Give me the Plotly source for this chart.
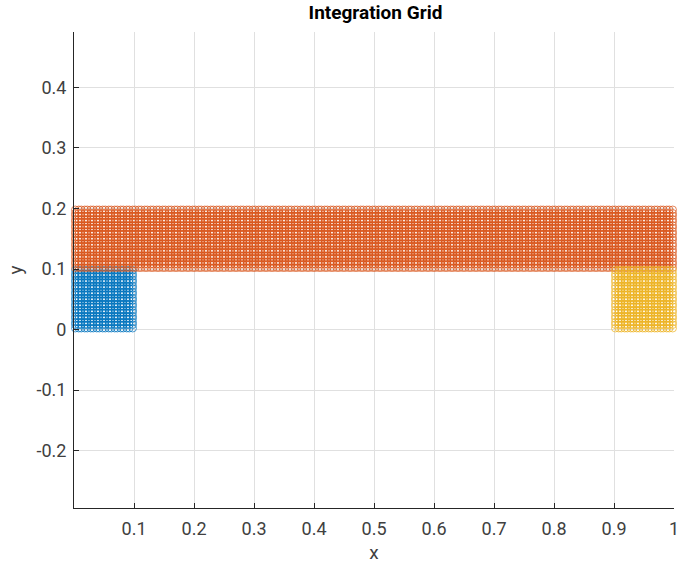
import numpy as np
import plotly.graph_objects as go

# Integration-grid blocks: name, x-extent, y-extent, colour
block_names = ["left", "strip", "right"]
block_x = [[0.0, 0.1], [0.0, 1.0], [0.9, 1.0]]
block_y = [[0.0, 0.1], [0.1, 0.2], [0.0, 0.1]]
block_colors = ["#0072BD", "#D95319", "#EDB120"]
cell_size = 0.01
gauss_offsets = [0.2113, 0.7887]   # 2-point Gauss positions inside each cell (fraction of cell)

x_ticks = [0.1, 0.2, 0.3, 0.4, 0.5, 0.6, 0.7, 0.8, 0.9, 1.0]
x_tick_text = ["0.1", "0.2", "0.3", "0.4", "0.5", "0.6", "0.7", "0.8", "0.9", "1"]
y_ticks = [-0.2, -0.1, 0.0, 0.1, 0.2, 0.3, 0.4]
y_tick_text = ["-0.2", "-0.1", "0", "0.1", "0.2", "0.3", "0.4"]


def gauss_nodes(lo, hi):
    n = int(round((hi - lo) / cell_size))
    starts = lo + cell_size * np.arange(n)
    return (starts[:, None] + cell_size * np.array(gauss_offsets)[None, :]).ravel()


fig = go.Figure()
for name, bx, by, col in zip(block_names, block_x, block_y, block_colors):
    gx, gy = np.meshgrid(gauss_nodes(*bx), gauss_nodes(*by))
    fig.add_trace(go.Scatter(
        x=gx.ravel(), y=gy.ravel(), mode="markers", name=name,
        marker=dict(symbol="circle-open", size=7.5, color=col, line=dict(width=0.7, color=col)),
        showlegend=False, cliponaxis=False,
    ))

axis_common = dict(
    showgrid=True, gridcolor="#E0E0E0", gridwidth=1, zeroline=False,
    showline=True, linecolor="#262626", linewidth=1,
    ticks="inside", ticklen=5, tickcolor="#262626",
    tickfont=dict(family="Roboto", size=18, color="#404040"),
)
fig.update_layout(
    width=679, height=568,
    margin=dict(l=74, r=0, t=32, b=60),
    paper_bgcolor="white", plot_bgcolor="white",
    title=dict(text="<b>Integration Grid</b>", x=0.553, xanchor="center", y=0.979, yanchor="middle",
               font=dict(family="Roboto", size=19, color="black")),
    xaxis=dict(range=[0, 1], tickvals=x_ticks, ticktext=x_tick_text, ticklabeloverflow="allow",
               ticklabelstandoff=4,
               title=dict(text="x", font=dict(family="Roboto", size=19, color="#404040"), standoff=8),
               **axis_common),
    yaxis=dict(range=[-0.2950, 0.4917], tickvals=y_ticks, ticktext=y_tick_text,
               ticklabelstandoff=3,
               title=dict(text="y", font=dict(family="Roboto", size=19, color="#404040"), standoff=8),
               **axis_common),
)
fig.write_html("out.html",
               post_script="document.documentElement.style.overflow='hidden';document.body.style.overflow='hidden';")
